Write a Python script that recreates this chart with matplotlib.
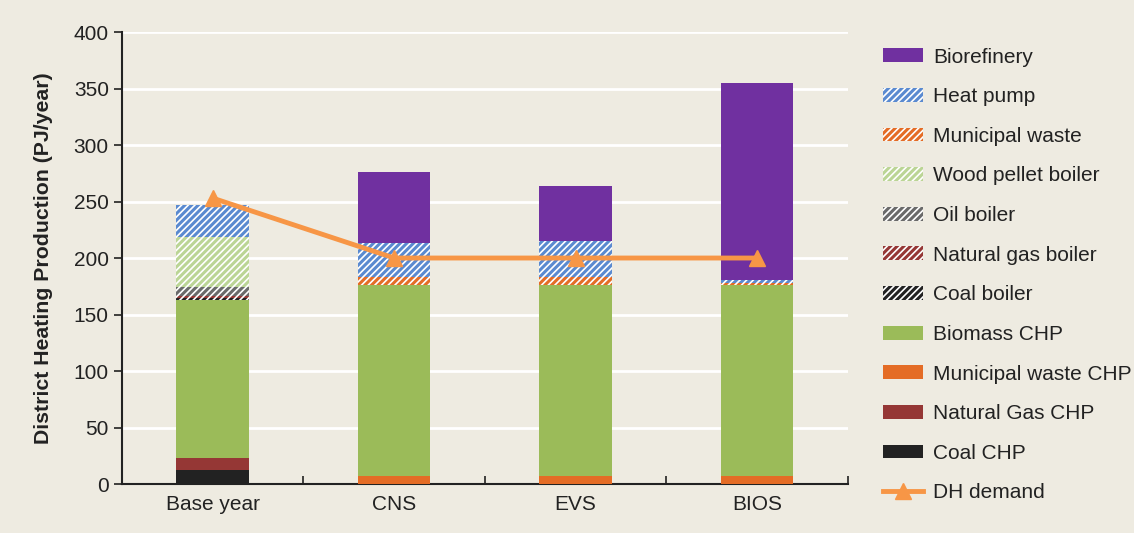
import numpy as np
import matplotlib.pyplot as plt
from matplotlib.lines import Line2D
from matplotlib.patches import Patch

scenarios = ['Base year', 'CNS', 'EVS', 'BIOS']

# stacked from bottom to top (PJ/year)
coal_chp = [12, 0, 0, 0]
natgas_chp = [11, 0, 0, 0]
muniwaste_chp = [0, 7, 7, 7]
biomass_chp = [140, 169, 169, 169]
coal_boiler = [1.5, 0, 0, 0]
natgas_boiler = [1.5, 0, 0, 0]
oil_boiler = [8, 0, 0, 0]
wood_pellet = [45, 0, 0, 0]
muni_waste = [0, 7.5, 7.5, 1.5]
heat_pump = [28, 30, 31.5, 3]
biorefinery = [0, 63, 48.5, 174]
dh_demand = [253, 200, 200, 200]

bg = '#EEEBE1'
plt.rcParams['hatch.linewidth'] = 1.2
plt.rcParams['font.family'] = ['Liberation Sans', 'DejaVu Sans']

# (label, values, colour, hatched)
layers = [
    ('Coal CHP', coal_chp, '#222222', False),
    ('Natural Gas CHP', natgas_chp, '#953735', False),
    ('Municipal waste CHP', muniwaste_chp, '#E46C25', False),
    ('Biomass CHP', biomass_chp, '#9BBB59', False),
    ('Coal boiler', coal_boiler, '#222222', True),
    ('Natural gas boiler', natgas_boiler, '#953735', True),
    ('Oil boiler', oil_boiler, '#6A6A6A', True),
    ('Wood pellet boiler', wood_pellet, '#BBD595', True),
    ('Municipal waste', muni_waste, '#E46C25', True),
    ('Heat pump', heat_pump, '#5A8AD0', True),
    ('Biorefinery', biorefinery, '#7030A0', False),
]

fig = plt.figure(figsize=(11.34, 5.33), dpi=100, facecolor=bg)
ax = fig.add_axes([0.1076, 0.0919, 0.640, 0.848], facecolor=bg)

x = np.arange(len(scenarios))
bottom = np.zeros(len(scenarios))
handles = []
for label, vals, color, hatched in layers:
    vals = np.array(vals, dtype=float)
    if hatched:
        ax.bar(x, vals, 0.4, bottom=bottom, color=color, edgecolor='white',
               hatch='/////', linewidth=0, zorder=3)
        h = Patch(facecolor=color, edgecolor='white', hatch='/////', linewidth=0)
    else:
        ax.bar(x, vals, 0.4, bottom=bottom, color=color, linewidth=0, zorder=3)
        h = Patch(facecolor=color, linewidth=0)
    handles.append((h, label))
    bottom += vals

ax.plot(x, dh_demand, color='#F79646', lw=3.5, marker='^', markersize=11,
        zorder=4)

ax.set_xlim(-0.5, 3.5)
ax.set_ylim(0, 400)
ax.set_yticks(range(0, 401, 50))
ax.set_xticks(x)
ax.set_xticklabels(scenarios)
ax.set_xticks(np.arange(-0.5, 4, 1), minor=True)
ax.tick_params(axis='x', which='major', length=0, pad=8, labelsize=15, colors='#222222')
ax.tick_params(axis='x', which='minor', length=6, width=1.2, direction='in', color='#222222')
ax.tick_params(axis='y', length=6, width=1.2, labelsize=15, colors='#222222')
ax.yaxis.grid(True, color='white', lw=2, zorder=0)
ax.set_axisbelow(True)
for s in ['top', 'right']:
    ax.spines[s].set_visible(False)
for s in ['left', 'bottom']:
    ax.spines[s].set_color('#222222')
    ax.spines[s].set_linewidth(1.5)
ax.set_ylabel('District Heating Production (PJ/year)', fontsize=15.3,
              fontweight='bold', color='#222222', labelpad=15)

leg_handles = [h for h, _ in handles[::-1]]
leg_labels = [l for _, l in handles[::-1]]
leg_handles.append(Line2D([], [], color='#F79646', lw=3.5, marker='^', markersize=11))
leg_labels.append('DH demand')
fig.legend(leg_handles, leg_labels, loc='upper left', bbox_to_anchor=(0.762, 0.946),
           frameon=False, fontsize=15, handlelength=1.95, handleheight=0.65,
           labelspacing=0.99, handletextpad=0.45, labelcolor='#222222')

fig.savefig('out.png', dpi=100, facecolor=bg)
